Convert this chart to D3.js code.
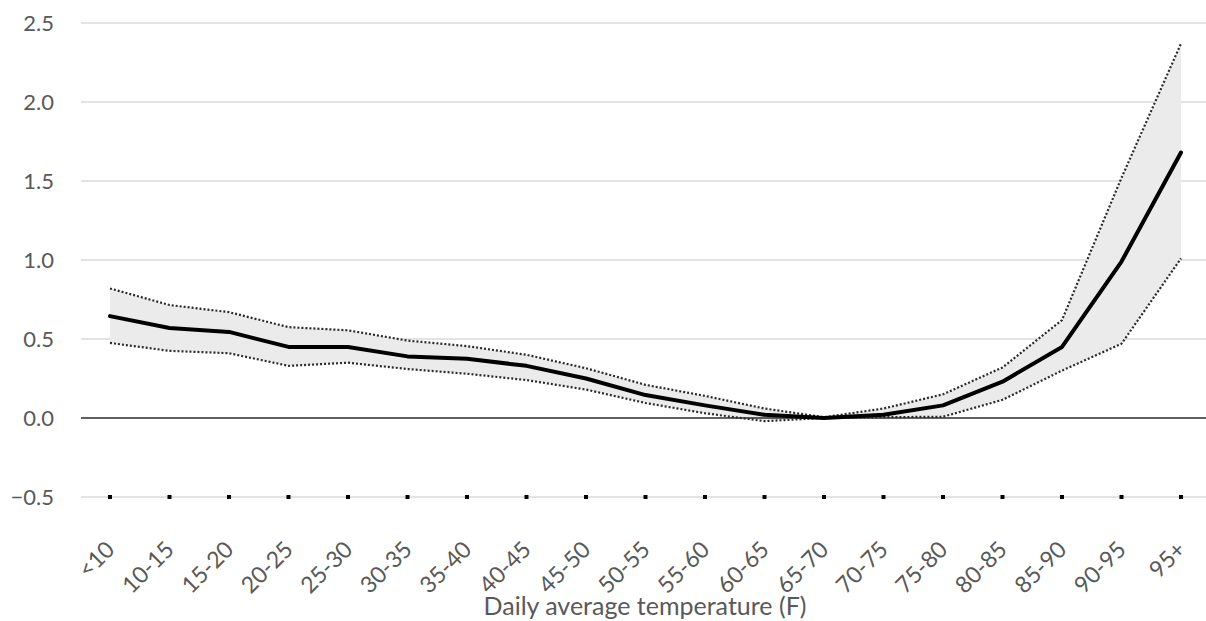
<!DOCTYPE html>
<html>
<head>
<meta charset="utf-8">
<script src="https://cdn.jsdelivr.net/npm/d3@7"></script>
<style>
  html, body { margin: 0; padding: 0; background: #ffffff; }
  svg { display: block; }
  text { font-family: Lato, "Open Sans", sans-serif; fill: #595959; }
</style>
</head>
<body>
<svg id="chart" width="1206" height="621"></svg>
<script>
const categories = ["<10","10-15","15-20","20-25","25-30","30-35","35-40","40-45","45-50","50-55","55-60","60-65","65-70","70-75","75-80","80-85","85-90","90-95","95+"];
const meanValues  = [0.645,0.57,0.545,0.45,0.45,0.39,0.375,0.33,0.25,0.145,0.08,0.02,0.0,0.02,0.08,0.23,0.45,0.99,1.68];
const upperValues = [0.82,0.715,0.67,0.575,0.555,0.49,0.455,0.40,0.315,0.21,0.14,0.06,0.005,0.06,0.15,0.32,0.62,1.52,2.37];
const lowerValues = [0.475,0.425,0.41,0.33,0.35,0.31,0.28,0.24,0.18,0.095,0.03,-0.02,0.0,0.005,0.008,0.115,0.30,0.47,1.01];
const yTicks = [-0.5,0.0,0.5,1.0,1.5,2.0,2.5];
const xTitle = "Daily average temperature (F)";

const svg = d3.select("#chart");
const plotLeft = 81, plotRight = 1206;

const x = d3.scalePoint().domain(categories).range([110, 1181]);
const y = d3.scaleLinear().domain([-0.5, 2.5]).range([497, 23]);

const data = categories.map((c, i) => ({c, m: meanValues[i], u: upperValues[i], l: lowerValues[i]}));

// gridlines
svg.append("g").selectAll("line").data(yTicks.filter(v => v !== 0)).join("line")
  .attr("x1", plotLeft).attr("x2", plotRight)
  .attr("y1", d => y(d)).attr("y2", d => y(d))
  .attr("stroke", "#e3e3e3").attr("stroke-width", 2);

// y labels
svg.append("g").selectAll("text").data(yTicks).join("text")
  .attr("x", 54).attr("y", d => y(d)).attr("dy", "0.36em")
  .attr("text-anchor", "end").attr("font-size", 22)
  .text(d => d3.format(".1f")(d));

// band
svg.append("path").datum(data)
  .attr("fill", "#ebebeb")
  .attr("d", d3.area().x(d => x(d.c)).y0(d => y(d.l)).y1(d => y(d.u)));

// zero line
svg.append("line")
  .attr("x1", plotLeft).attr("x2", plotRight)
  .attr("y1", y(0)).attr("y2", y(0))
  .attr("stroke", "#2b2b2b").attr("stroke-width", 1.5);

// bounds
["u", "l"].forEach(k => {
  svg.append("path").datum(data)
    .attr("fill", "none").attr("stroke", "#2a2a2a").attr("stroke-width", 2.2)
    .attr("stroke-dasharray", "2,2")
    .attr("d", d3.line().x(d => x(d.c)).y(d => y(d[k])));
});

// mean
svg.append("path").datum(data)
  .attr("fill", "none").attr("stroke", "#000").attr("stroke-width", 4)
  .attr("stroke-linejoin", "round").attr("stroke-linecap", "round")
  .attr("d", d3.line().x(d => x(d.c)).y(d => y(d.m)));

// dots at -0.5
svg.append("g").selectAll("rect").data(categories).join("rect")
  .attr("x", d => x(d) - 2).attr("y", y(-0.5) - 2)
  .attr("width", 4).attr("height", 4).attr("fill", "#000");

// x labels
svg.append("g").selectAll("text").data(categories).join("text")
  .attr("transform", d => `translate(${x(d) + 6},${y(-0.5) + 54}) rotate(-45)`)
  .attr("text-anchor", "end").attr("font-size", 23)
  .text(d => d);

// title
svg.append("text")
  .attr("x", 645).attr("y", 615)
  .attr("text-anchor", "middle").attr("font-size", 25)
  .text(xTitle);
</script>
</body>
</html>
